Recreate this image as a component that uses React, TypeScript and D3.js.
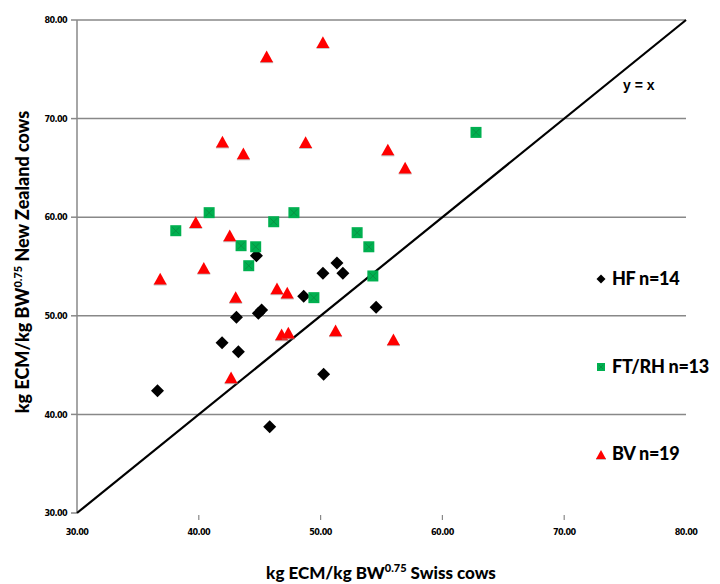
import React from "react";
import * as d3 from "d3";

const hfX = [44.73, 50.19, 51.34, 51.83, 48.61, 54.56, 44.89, 45.16, 43.09, 41.91, 43.25, 36.61, 50.25, 45.82];
const hfY = [56.1, 54.31, 55.35, 54.31, 51.98, 50.87, 50.25, 50.59, 49.85, 47.27, 46.36, 42.4, 44.06, 38.75];

const ftX = [62.76, 40.85, 38.11, 46.15, 47.81, 43.47, 44.67, 53.0, 53.96, 44.1, 54.29, 49.45];
const ftY = [68.6, 60.46, 58.63, 59.54, 60.46, 57.11, 57.0, 58.43, 57.0, 55.08, 54.04, 51.84];

const bvX = [45.57, 50.19, 41.94, 43.66, 48.77, 39.75, 42.54, 55.52, 56.94, 40.41, 36.83, 46.42, 47.26, 43.03, 46.8, 47.35, 51.23, 42.65, 55.98];
const bvY = [76.25, 77.7, 67.6, 66.4, 67.55, 59.44, 58.09, 66.8, 64.96, 54.8, 53.7, 52.72, 52.28, 51.84, 48.05, 48.22, 48.46, 43.69, 47.55];

const ticks = [30, 40, 50, 60, 70, 80];
const legendLabels = ["HF n=14", "FT/RH n=13", "BV n=19"];

const W = 720, H = 584;
const x = d3.scaleLinear().domain([30, 80]).range([77, 686]);
const y = d3.scaleLinear().domain([30, 80]).range([513, 20]);

const tickFont = "'Liberation Sans Narrow', 'DejaVu Sans Condensed', Arial, sans-serif";
const titleFont = "Lato, 'Open Sans', Arial, sans-serif";
const GREEN = "#00B050";
const RED = "#FF0000";

const Diamond = ({ cx, cy, s = 6.5 }: { cx: number; cy: number; s?: number }) => (
  <path d={`M${cx},${cy - s}L${cx + s},${cy}L${cx},${cy + s}L${cx - s},${cy}Z`} fill="#000" />
);
const Square = ({ cx, cy, s = 5.5 }: { cx: number; cy: number; s?: number }) => (
  <g>
    <rect x={cx - s} y={cy - s} width={2 * s} height={2 * s} fill={GREEN} />
    <path d={`M${cx - s + 2},${cy - s + 2}L${cx + s - 2},${cy + s - 2}M${cx + s - 2},${cy - s + 2}L${cx - s + 2},${cy + s - 2}`} stroke="#0a8a40" strokeWidth={0.8} />
  </g>
);
const Triangle = ({ cx, cy, s = 6.5 }: { cx: number; cy: number; s?: number }) => (
  <g>
    <rect x={cx - s} y={cy + s * 0.8 - 1} width={2 * s} height={2} fill="#999" opacity={0.6} />
    <path d={`M${cx},${cy - s}L${cx + s},${cy + s * 0.8}L${cx - s},${cy + s * 0.8}Z`} fill={RED} />
  </g>
);

export default function App() {
  return (
    <svg width={W} height={H} style={{ position: "absolute", left: 0, top: 0, background: "#fff" }}>
      {ticks.slice(1).map((t) => (
        <line key={"g" + t} x1={x(30)} x2={x(80)} y1={y(t)} y2={y(t)} stroke="#888" strokeWidth={1.5} />
      ))}
      <line x1={x(30)} x2={x(30)} y1={y(80)} y2={y(30)} stroke="#888" strokeWidth={1.5} />
      {ticks.map((t) => (
        <g key={"yt" + t}>
          <line x1={x(30) - 6} x2={x(30)} y1={y(t)} y2={y(t)} stroke="#888" strokeWidth={1.5} />
          <text x={x(30) - 10} y={y(t)} dy="0.35em" textAnchor="end" fontFamily={tickFont} fontSize={9} fontWeight="bold" letterSpacing={-0.6}>
            {t.toFixed(2)}
          </text>
        </g>
      ))}
      {ticks.map((t) => (
        <g key={"xt" + t}>
          {t > 30 && t < 80 && <line x1={x(t)} x2={x(t)} y1={y(30) + 2} y2={y(30) + 7} stroke="#888" strokeWidth={1.2} />}
          <text x={x(t)} y={y(30) + 22} textAnchor="middle" fontFamily={tickFont} fontSize={9} fontWeight="bold" letterSpacing={-0.6}>
            {t.toFixed(2)}
          </text>
        </g>
      ))}
      <line x1={x(30)} y1={y(30)} x2={x(80)} y2={y(80)} stroke="#000" strokeWidth={2.2} />
      <text x={623} y={90} fontFamily="Arial, 'Liberation Sans', sans-serif" fontSize={14} fontWeight="bold">y = x</text>

      {hfX.map((v, i) => <Diamond key={"h" + i} cx={x(v)} cy={y(hfY[i])} />)}
      {ftX.map((v, i) => <Square key={"f" + i} cx={x(v)} cy={y(ftY[i])} />)}
      {bvX.map((v, i) => <Triangle key={"b" + i} cx={x(v)} cy={y(bvY[i])} />)}

      <Diamond cx={601} cy={279} s={4.5} />
      <Square cx={601} cy={367} s={4} />
      <Triangle cx={601} cy={455} s={5} />
      {legendLabels.map((l, i) => (
        <text key={l} x={612} y={[279, 367, 454][i]} dy="0.36em" fontFamily={titleFont} fontSize={18} fontWeight="900" letterSpacing={-0.3}>{l}</text>
      ))}

      <text x={381} y={579} textAnchor="middle" fontFamily={titleFont} fontSize={17} fontWeight="900">
        kg ECM/kg BW<tspan dy={-7} fontSize={11}>0.75</tspan><tspan dy={7}> Swiss cows</tspan>
      </text>
      <text transform={`translate(29,262) rotate(-90)`} textAnchor="middle" fontFamily={titleFont} fontSize={18} fontWeight="900">
        kg ECM/kg BW<tspan dy={-7} fontSize={11}>0.75</tspan><tspan dy={7}> New Zealand cows</tspan>
      </text>
    </svg>
  );
}
